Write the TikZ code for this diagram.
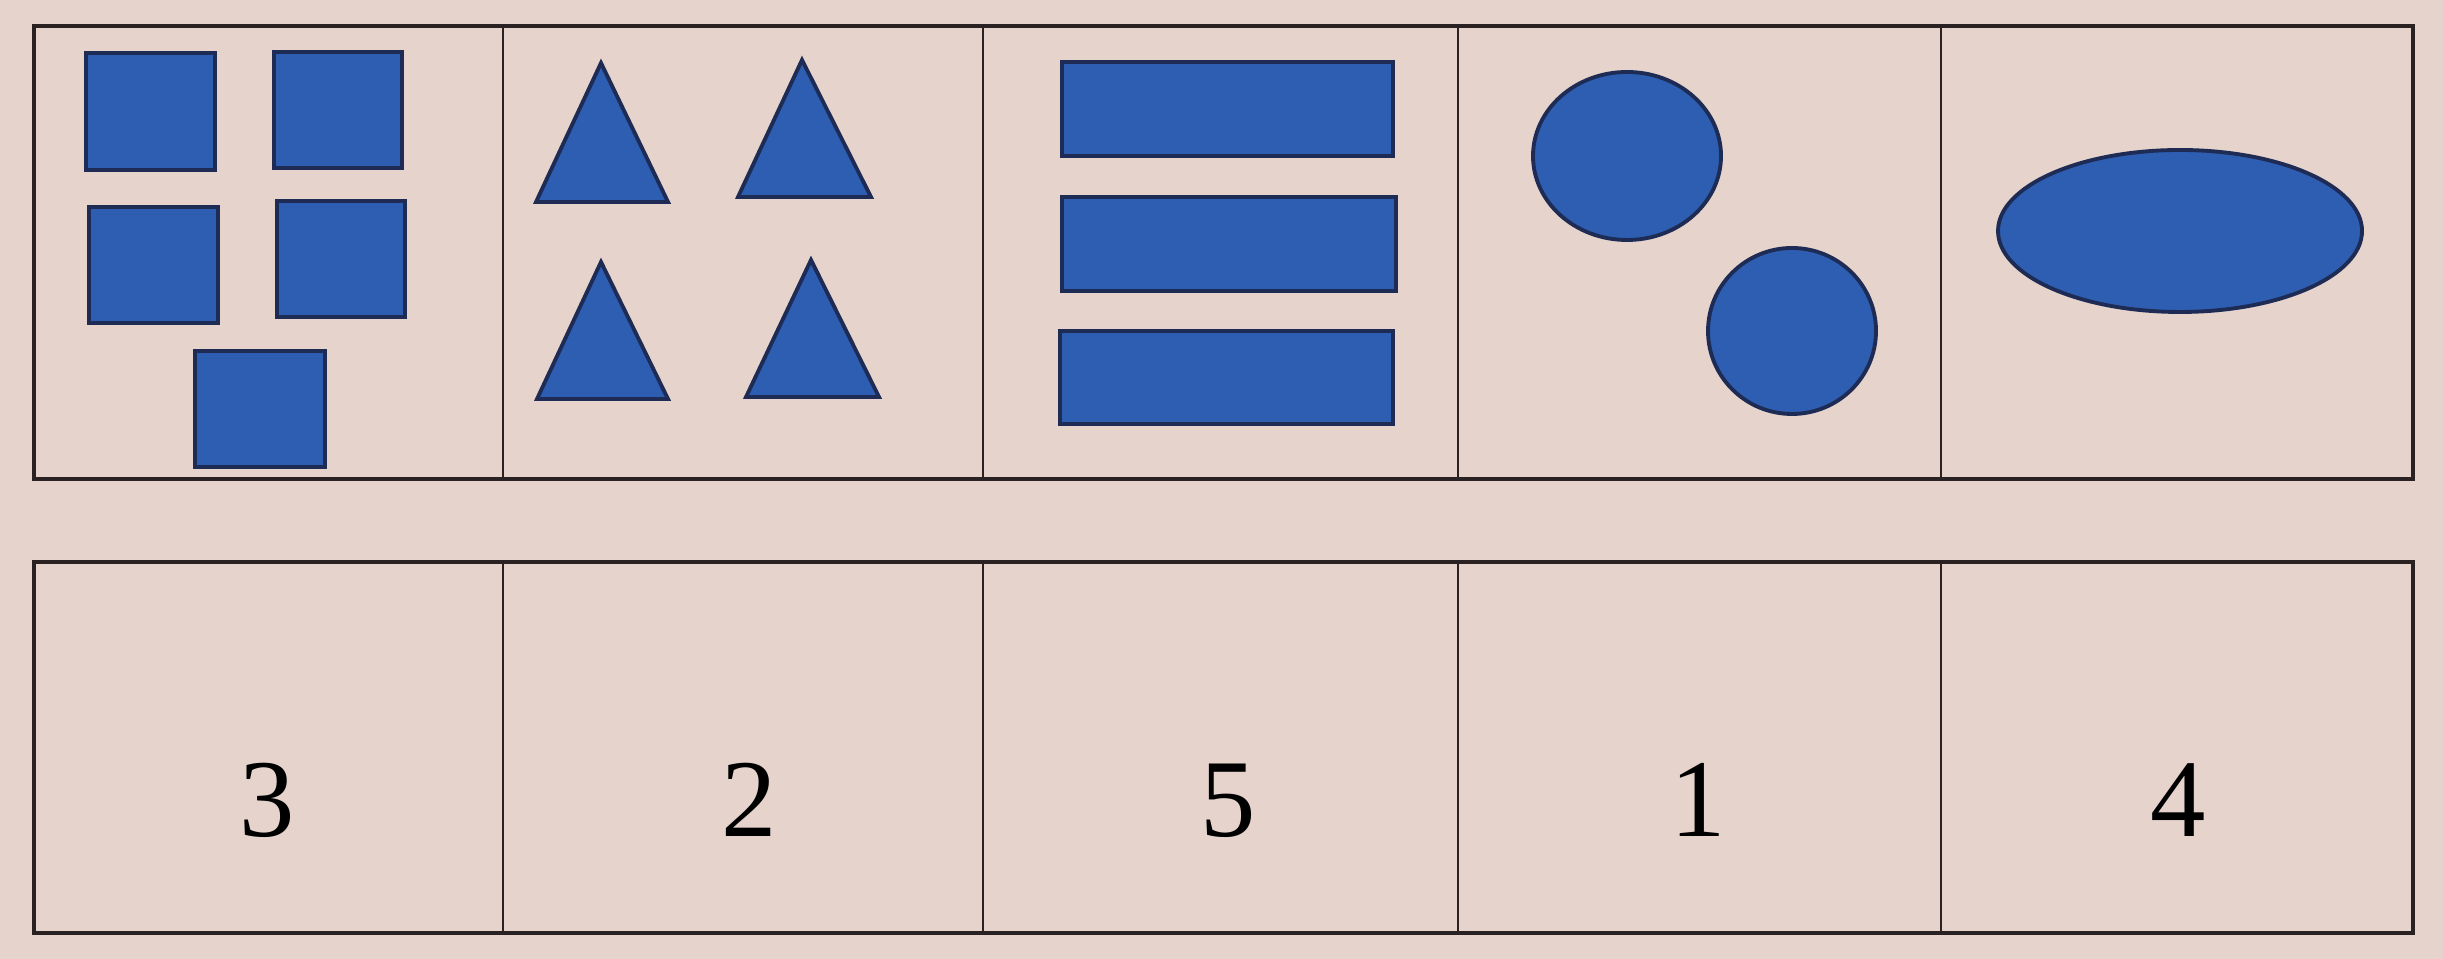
\documentclass[tikz,border=0pt]{standalone}
\usepackage{fontspec}
\setmainfont{Liberation Serif}
\usepackage{xcolor}
\definecolor{SHBack}{HTML}{E6D4CC}
\definecolor{SHBlue}{HTML}{2E5EB2}
\definecolor{SHEdge}{HTML}{1E2C55}
\definecolor{SHLine}{HTML}{2A2222}
\tikzset{
  blueshape/.style={fill=SHBlue,draw=SHEdge,line width=1.1pt},
  frameline/.style={SHLine,line width=1.2pt},
  cellline/.style={SHLine,line width=0.6pt},
  digit/.style={anchor=base,inner sep=0pt,font=\fontsize{31.5}{36}\selectfont}
}
\begin{document}
\begin{tikzpicture}[x=1cm,y=1cm]
\path[use as bounding box] (0,0) rectangle (24.43,9.59);
\fill[SHBack] (0,0) rectangle (24.43,9.59);
% top table
\draw[cellline] (5.03,4.80) -- (5.03,9.33);
\draw[cellline] (9.83,4.80) -- (9.83,9.33);
\draw[cellline] (14.58,4.80) -- (14.58,9.33);
\draw[cellline] (19.41,4.80) -- (19.41,9.33);
\draw[frameline] (0.34,4.80) rectangle (24.13,9.33);
% bottom table
\draw[cellline] (5.03,0.26) -- (5.03,3.97);
\draw[cellline] (9.83,0.26) -- (9.83,3.97);
\draw[cellline] (14.58,0.26) -- (14.58,3.97);
\draw[cellline] (19.41,0.26) -- (19.41,3.97);
\draw[frameline] (0.34,0.26) rectangle (24.13,3.97);
% squares
\draw[blueshape] (0.86,7.89) rectangle (2.15,9.06);
\draw[blueshape] (2.74,7.91) rectangle (4.02,9.07);
\draw[blueshape] (0.89,6.36) rectangle (2.18,7.52);
\draw[blueshape] (2.77,6.42) rectangle (4.05,7.58);
\draw[blueshape] (1.95,4.92) rectangle (3.25,6.08);
% triangles
\draw[blueshape] (5.36,7.57) -- (6.68,7.57) -- (6.01,8.96) -- cycle;
\draw[blueshape] (7.38,7.62) -- (8.71,7.62) -- (8.02,8.99) -- cycle;
\draw[blueshape] (5.37,5.60) -- (6.68,5.60) -- (6.01,6.97) -- cycle;
\draw[blueshape] (7.46,5.62) -- (8.79,5.62) -- (8.11,6.99) -- cycle;
% rectangles
\draw[blueshape] (10.62,8.03) rectangle (13.93,8.97);
\draw[blueshape] (10.62,6.68) rectangle (13.96,7.62);
\draw[blueshape] (10.60,5.35) rectangle (13.93,6.28);
% circles and ellipse
\draw[blueshape] (16.27,8.03) ellipse [x radius=0.94,y radius=0.84];
\draw[blueshape] (17.92,6.28) ellipse [x radius=0.84,y radius=0.83];
\draw[blueshape] (21.80,7.28) ellipse [x radius=1.82,y radius=0.81];
% numbers
\node[digit] (n3) at (2.67,1.22) {3};
\node[digit] (n2) at (7.49,1.22) {2};
\node[digit] (n5) at (12.28,1.22) {5};
\node[digit] (n1) at (16.98,1.22) {1};
\node[digit] (n4) at (21.78,1.22) {4};
\end{tikzpicture}
\end{document}
